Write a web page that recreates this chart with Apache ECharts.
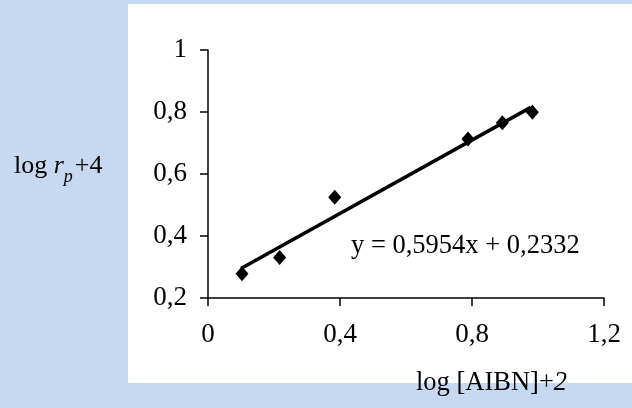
<!DOCTYPE html>
<html>
<head>
<meta charset="utf-8">
<script src="https://cdn.jsdelivr.net/npm/echarts@6/dist/echarts.min.js"></script>
<style>
  html, body { margin: 0; padding: 0; background: #c6d9f0; }
  #chart { width: 632px; height: 408px; }
</style>
</head>
<body>
<div id="chart"></div>
<script>
// measured points: log[AIBN]+2 vs log rp+4
const xValues = [0.103, 0.217, 0.384, 0.788, 0.892, 0.983]
const yValues = [0.278, 0.331, 0.525, 0.713, 0.765, 0.799]

// trend line ends as drawn in the picture
const trendX = [0.10, 0.978]
const trendY = [0.295, 0.815]

const xTicks = [0, 0.4, 0.8, 1.2]
const yTicks = [0.2, 0.4, 0.6, 0.8, 1]

const equationText = 'y = 0,5954x + 0,2332'

const serif = '"Liberation Serif", "Times New Roman", serif'

// 0.4 -> "0,4", 1 -> "1"
function commaLabel(v) {
  return String(+v.toFixed(1)).replace('.', ',')
}

const chart = echarts.init(document.getElementById('chart'))

const option = {
  backgroundColor: '#c6d9f0',
  animation: false,
  grid: {
    left: 208,
    right: 28,
    top: 50,
    bottom: 110
  },
  xAxis: {
    type: 'value',
    min: xTicks[0],
    max: xTicks[xTicks.length - 1],
    interval: 0.4,
    splitLine: { show: false },
    axisLine: { onZero: false, lineStyle: { color: '#000', width: 1.5 } },
    axisTick: { show: true, length: 8, lineStyle: { color: '#000', width: 1.5 } },
    axisLabel: {
      color: '#000',
      fontFamily: serif,
      fontSize: 27,
      margin: 23,
      formatter: commaLabel
    }
  },
  yAxis: {
    type: 'value',
    min: yTicks[0],
    max: yTicks[yTicks.length - 1],
    interval: 0.2,
    splitLine: { show: false },
    axisLine: { show: true, onZero: false, lineStyle: { color: '#000', width: 1.5 } },
    axisTick: { show: true, length: 8, lineStyle: { color: '#000', width: 1.5 } },
    axisLabel: {
      color: '#000',
      fontFamily: serif,
      fontSize: 27,
      margin: 21,
      formatter: commaLabel
    }
  },
  graphic: [
    {
      type: 'rect',
      z: -10,
      silent: true,
      shape: { x: 128, y: 4, width: 504, height: 379 },
      style: { fill: '#ffffff' }
    },
    {
      type: 'text',
      left: 351,
      top: 233,
      style: {
        text: equationText,
        fill: '#000',
        font: '26.5px ' + serif
      }
    },
    {
      type: 'text',
      left: 14,
      top: 153,
      style: {
        text: '{n|log }{i|r}{s|p}{n|+4}',
        fill: '#000',
        rich: {
          n: { fontFamily: serif, fontSize: 26, fill: '#000', verticalAlign: 'top' },
          i: { fontFamily: serif, fontSize: 26, fontStyle: 'italic', fill: '#000', verticalAlign: 'top' },
          s: { fontFamily: serif, fontSize: 18, fontStyle: 'italic', fill: '#000', verticalAlign: 'top', padding: [15, 2, 0, 0] }
        }
      }
    },
    {
      type: 'text',
      left: 416,
      top: 370,
      style: {
        text: '{n|log [AIBN]+}{i|2}',
        fill: '#000',
        rich: {
          n: { fontFamily: serif, fontSize: 26.5, fill: '#000' },
          i: { fontFamily: serif, fontSize: 26.5, fontStyle: 'italic', fill: '#000' }
        }
      }
    }
  ],
  series: [
    {
      name: 'trend',
      type: 'line',
      data: trendX.map((x, i) => [x, trendY[i]]),
      symbol: 'none',
      lineStyle: { color: '#000', width: 3.5 },
      z: 2
    },
    {
      name: 'data',
      type: 'scatter',
      data: xValues.map((x, i) => [x, yValues[i]]),
      symbol: 'diamond',
      symbolSize: [13, 15],
      itemStyle: { color: '#000', opacity: 1 },
      z: 3
    }
  ]
}

chart.setOption(option)
</script>
</body>
</html>
